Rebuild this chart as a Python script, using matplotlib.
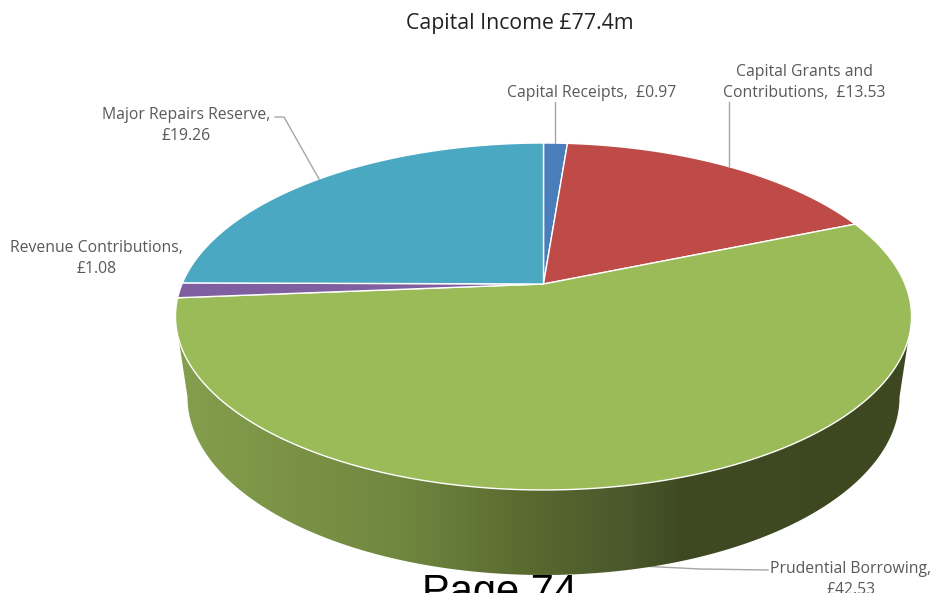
import numpy as np
import matplotlib
matplotlib.use('Agg')
import matplotlib.pyplot as plt
from matplotlib.colors import LinearSegmentedColormap
from matplotlib.patches import Polygon

# values in £m, clockwise from 12 o'clock
categories = ['Capital Receipts', 'Capital Grants and Contributions', 'Prudential Borrowing',
              'Revenue Contributions', 'Major Repairs Reserve']
values = [0.97, 13.53, 42.53, 1.08, 19.26]
colors = ['#4a7ebb', '#be4b48', '#9bbb59', '#7f5f9f', '#4aa8c2']
value_labels = ['£0.97', '£13.53', '£42.53', '£1.08', '£19.26']

wall_x = [175, 300, 400, 530, 620, 680, 912]
wall_colors = ['#849f4d', '#7a9145', '#70873f', '#59692f', '#4b5a2c', '#3f4a22', '#3e4820']

# the perspective: page position of a point (u, v) on the unit circle
cx = 543.5
c = 0.1873
k = 361.5
a = -114.2
b = 284


def project(u, v):
    d = 1 + c * v
    return cx + k * u / d, (a * v + b) / d


def rim(t0, t1, n=200):
    t = np.radians(np.linspace(t0, t1, n))
    return project(np.sin(t), np.cos(t))


fig = plt.figure(figsize=(9.32, 5.93), dpi=100)
ax = fig.add_axes([0, 0, 1, 1])
ax.set_xlim(0, 932)
ax.set_ylim(593, 0)
ax.axis('off')

# side wall: lower half of the top outline, joined to a smaller base ellipse
x_top, y_top = rim(0, 360, 720)
lo = np.where(y_top > 338)[0]
lo = lo[np.argsort(x_top[lo])]
t = np.radians(np.linspace(180, 0, 360))
x_base = cx + 356 * np.cos(t)
y_base = 397 + 178 * np.sin(t)
wall_xs = np.concatenate([x_top[lo], x_base[::-1]])
wall_ys = np.concatenate([y_top[lo], y_base[::-1]])
wall_poly = Polygon(np.column_stack([wall_xs, wall_ys]), closed=True, transform=ax.transData,
                    facecolor='none', edgecolor='none')
ax.add_patch(wall_poly)
stops = [(x - wall_x[0]) / (wall_x[-1] - wall_x[0]) for x in wall_x]
cmap = LinearSegmentedColormap.from_list('wall', list(zip(stops, wall_colors)))
grad = np.linspace(0, 1, 512).reshape(1, -1)
im = ax.imshow(grad, cmap=cmap, extent=[175, 912, 593, 300], aspect='auto', zorder=1)
im.set_clip_path(wall_poly)
ax.set_xlim(0, 932)
ax.set_ylim(593, 0)

# top face
start = 0
total = sum(values)
for val, col in zip(values, colors):
    end = start + val / total * 360
    xs, ys = rim(start, end)
    ax.fill(np.r_[cx, xs], np.r_[b, ys], facecolor=col, edgecolor='white', lw=1.0, zorder=2)
    start = end

# leader lines
line_col = '#a6a6a6'
ax.plot([275, 284, 319], [117, 117, 179], color=line_col, lw=1, zorder=3)
ax.plot([555, 555], [102, 143], color=line_col, lw=1, zorder=3)
ax.plot([729, 729], [102, 166], color=line_col, lw=1, zorder=3)
ax.plot([768, 700, 640], [570, 569, 566], color=line_col, lw=1, zorder=0)

# text
font = 'Open Sans'
txt = '#595959'
fs = 11.3
ls = 1.43
ax.text(520, 24, 'Capital Income £77.4m', ha='center', va='center', fontsize=15.3, family=font, color='#222222')
ax.text(591.5, 93, categories[0] + ',  ' + value_labels[0], ha='center', va='center', fontsize=fs, family=font, color=txt)
ax.text(804.5, 82.5, 'Capital Grants and\nContributions,  ' + value_labels[1], ha='center', va='center', fontsize=fs,
        family=font, color=txt, linespacing=ls)
ax.text(851, 579.5, categories[2] + ',\n' + value_labels[2], ha='center', va='center', fontsize=fs, family=font,
        color=txt, linespacing=ls)
ax.text(96.5, 258.5, categories[3] + ',\n' + value_labels[3], ha='center', va='center', fontsize=fs, family=font,
        color=txt, linespacing=ls)
ax.text(186.5, 125.5, categories[4] + ',\n' + value_labels[4], ha='center', va='center', fontsize=fs, family=font,
        color=txt, linespacing=ls)
ax.text(499.5, 604, 'Page 74', ha='center', va='baseline', fontsize=30, family='Liberation Sans', color='black', zorder=4)

fig.savefig('out.png', dpi=100)
